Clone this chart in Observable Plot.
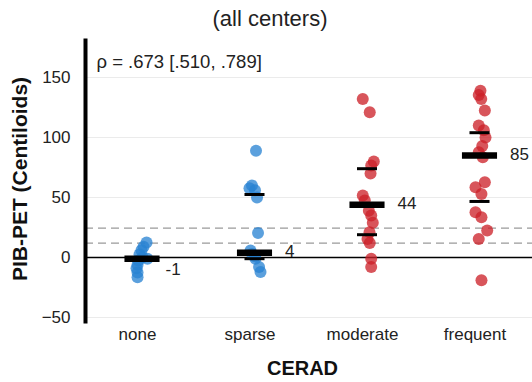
<!DOCTYPE html>
<html>
<head>
<meta charset="utf-8">
<script src="https://cdn.jsdelivr.net/npm/d3@7"></script>
<script src="https://cdn.jsdelivr.net/npm/@observablehq/plot@0.6"></script>
<style>
  html, body { margin: 0; padding: 0; background: #fff; }
  #chart { width: 532px; height: 382px; overflow: hidden; }
</style>
</head>
<body>
<div id="chart"></div>
<script>
// ---- data ----
const categories = ["none", "sparse", "moderate", "frequent"];

const noneValues     = [12.5, 9, 6, 2.5, 0, -1, -2.5, -6, -9, -12.5, -16.5];
const noneJitter     = [.036, .009, -.009, -.027, 0, .044, -.036, -.044, -.053, -.044, -.044];
const sparseValues   = [89, 60, 57.7, 56, 50, 20.5, 5.8, 3, 1, -1, -8, -12];
const sparseJitter   = [.009, -.027, -.049, 0, .018, .027, -.04, -.027, 0, .004, .036, .049];
const moderateValues = [132, 121, 80, 76.7, 70, 51.7, 47.5, 39, 35, 29, 21, 15.5, 12, -1, -8];
const moderateJitter = [-.042, .02, .056, .033, .027, -.042, -.024, .012, .033, .047, .018, 0, .02, .033, .033];
const frequentValues = [139, 135.5, 132, 122.5, 110, 106, 100, 93, 87.7, 83.6, 62.8, 58.6, 53, 37.8, 33.6, 22.5, 15.5, -19];
const frequentJitter = [.004, -.011, .011, .043, -.011, .034, .049, .02, -.011, .025, .043, -.04, .013, -.04, .013, .064, -.011, .013];

const medians        = [-1, 4, 44, 85];
const lowerQuartiles = [-2, -1, 19, 46.7];
const upperQuartiles = [0, 52.5, 74, 104];

const thresholds = [12, 24.4];
const gridValues = [-50, 50, 100, 150];
const yTicks = [-50, 0, 50, 100, 150];

const subtitle = "(all centers)";
const statText = "ρ = .673 [.510, .789]";
const xLabel = "CERAD";
const yLabel = "PIB-PET (Centiloids)";

// ---- build tables ----
const groupValues = [noneValues, sparseValues, moderateValues, frequentValues];
const groupJitter = [noneJitter, sparseJitter, moderateJitter, frequentJitter];
const points = groupValues.flatMap((vals, i) =>
  vals.map((v, j) => ({cat: i, x: i + groupJitter[i][j], y: v})));
const summary = categories.map((c, i) => ({
  cat: i, median: medians[i], q1: lowerQuartiles[i], q3: upperQuartiles[i]
}));

const blue = "rgb(40,130,210)";
const red = "rgb(204,31,39)";
const font = "'Liberation Sans', Arial, Helvetica, sans-serif";

const thickHalf = 0.156;
const thinHalf = 0.089;

const chart = Plot.plot({
  width: 532,
  height: 382,
  marginTop: 40,
  marginBottom: 61,
  marginLeft: 85,
  marginRight: 0,
  style: {fontFamily: font, fontSize: "17px", color: "#222", background: "#fff"},
  x: {type: "linear", domain: [-0.5067, 3.4667], axis: null},
  y: {domain: [-53.33, 180.83], axis: null},
  marks: [
    Plot.ruleY(gridValues, {stroke: "#ebebeb", strokeWidth: 1}),
    Plot.ruleY(thresholds, {stroke: "#9a9a9a", strokeWidth: 1.3, strokeDasharray: "8,5"}),
    Plot.ruleY([0], {stroke: "#000", strokeWidth: 1.5}),
    Plot.dot(points, {x: "x", y: "y", r: 6, fill: d => d.cat < 2 ? blue : red, fillOpacity: 0.76, stroke: "none"}),
    Plot.ruleY(summary, {y: "q1", x1: d => d.cat - thinHalf, x2: d => d.cat + thinHalf, stroke: "#000", strokeWidth: 3}),
    Plot.ruleY(summary, {y: "q3", x1: d => d.cat - thinHalf, x2: d => d.cat + thinHalf, stroke: "#000", strokeWidth: 3}),
    Plot.ruleY(summary, {y: "median", x1: d => d.cat - thickHalf, x2: d => d.cat + thickHalf, stroke: "#000", strokeWidth: 6.5}),
    Plot.text(summary.filter(d => d.cat === 0), {x: "cat", y: "median", text: d => String(d.median), textAnchor: "start", dx: 23, dy: 11, fontSize: 17, fill: "#222"}),
    Plot.text(summary.filter(d => d.cat > 0), {x: "cat", y: "median", text: d => String(d.median), textAnchor: "start", dx: 30, dy: -1, fontSize: 17, fill: "#222"}),
    Plot.axisY({ticks: yTicks, tickSize: 0, tickPadding: 15, label: null, fontSize: 17, fill: "#222"}),
    Plot.axisX({ticks: [0, 1, 2, 3], tickFormat: i => categories[i], tickSize: 0, tickPadding: 6, dx: -5, label: null, fontSize: 17, fill: "#222"}),
    Plot.frame({anchor: "left", stroke: "#000", strokeWidth: 4}),
    Plot.text([statText], {frameAnchor: "top-left", textAnchor: "start", lineAnchor: "middle", dx: 11, dy: 22, fontSize: 18.5, fill: "#222"}),
    Plot.text([subtitle], {frameAnchor: "top", textAnchor: "middle", lineAnchor: "middle", dx: -39, dy: -22, fontSize: 22, fill: "#222"}),
    Plot.text([xLabel], {frameAnchor: "bottom", textAnchor: "middle", lineAnchor: "middle", dx: -6.5, dy: 47, fontSize: 20, fontWeight: "bold", fill: "#111"}),
    Plot.text([yLabel], {frameAnchor: "left", textAnchor: "middle", rotate: -90, lineAnchor: "middle", dx: -65, dy: -2, fontSize: 21, fontWeight: "bold", fill: "#111"})
  ]
});
document.getElementById("chart").appendChild(chart);
</script>
</body>
</html>
